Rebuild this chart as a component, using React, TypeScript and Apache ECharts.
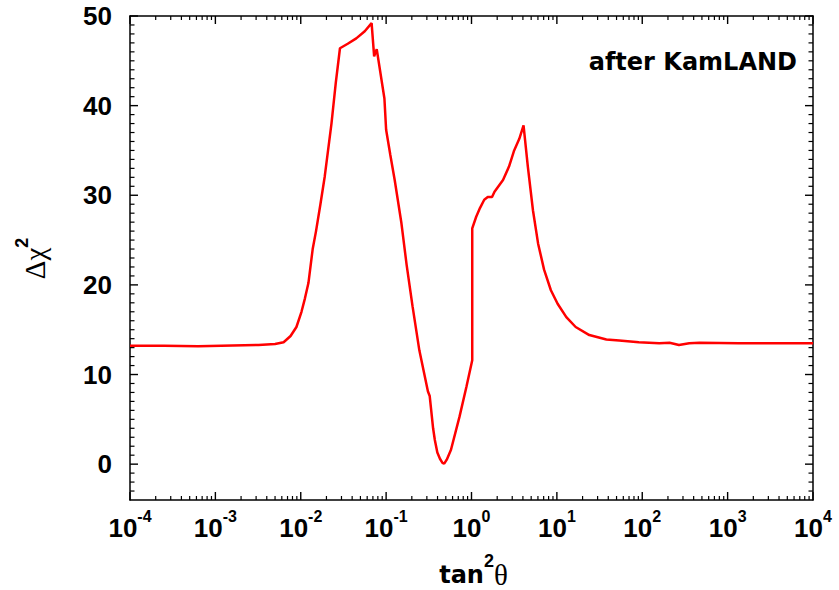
import React, { useEffect, useRef } from "react";
import * as echarts from "echarts";

// tan^2(theta) values along the curve
const tanSq = [
  1e-4, 2.5e-4, 6.3e-4, 1.6e-3, 3.2e-3, 5.0e-3, 6.3e-3, 7.6e-3, 8.9e-3, 1.02e-2,
  1.12e-2, 1.23e-2, 1.38e-2, 1.51e-2, 1.7e-2, 1.91e-2, 2.29e-2, 2.57e-2, 2.88e-2, 3.55e-2,
  4.47e-2, 5.62e-2, 6.76e-2, 7.24e-2, 7.76e-2, 9.55e-2, 0.1, 0.112, 0.126, 0.151,
  0.174, 0.204, 0.245, 0.309, 0.324, 0.355, 0.372, 0.398, 0.427, 0.457,
  0.479, 0.513, 0.575, 0.724, 0.871, 1.02, 1.02, 1.135, 1.26, 1.41,
  1.55, 1.74, 1.86, 2.34, 2.75, 3.16, 3.63, 4.07, 4.57, 5.25,
  6.03, 7.08, 8.51, 10.2, 12.9, 16.6, 24.0, 38.0, 53.7, 91.2,
  158, 209, 269, 355, 468, 1350, 3980, 10000,
];

// Delta chi^2 values
const deltaChi2 = [
  13.2, 13.2, 13.15, 13.25, 13.3, 13.4, 13.6, 14.3, 15.3, 17.0,
  18.5, 20.2, 24.0, 26.0, 29.0, 32.1, 38.0, 42.5, 46.4, 46.9,
  47.5, 48.3, 49.2, 45.5, 46.3, 40.8, 37.3, 34.5, 31.7, 26.9,
  22.2, 17.6, 12.7, 8.1, 7.6, 4.0, 2.7, 1.3, 0.6, 0.15,
  0.05, 0.5, 1.6, 5.3, 8.6, 11.6, 26.3, 27.6, 28.6, 29.5,
  29.8, 29.8, 30.4, 31.7, 33.2, 35.0, 36.3, 37.8, 33.2, 28.3,
  24.6, 21.7, 19.4, 17.9, 16.4, 15.3, 14.4, 13.9, 13.8, 13.6,
  13.5, 13.55, 13.3, 13.5, 13.55, 13.5, 13.5, 13.5,
];

const xDecadeExponents = [-4, -3, -2, -1, 0, 1, 2, 3, 4];
const yTickValues = [0, 10, 20, 30, 40, 50];
const annotationText = "after KamLAND";
const xTitleParts = ["tan", "2", "θ"];
const yTitleParts = ["Δχ", "2"];

const X_MIN = 1e-4;
const X_MAX = 1e4;
const Y_MIN = -4;
const Y_MAX = 50;

export default function App() {
  const ref = useRef<HTMLDivElement>(null);

  useEffect(() => {
    const chart = echarts.init(ref.current!, null, { renderer: "svg" });

    // tick specs: [value, length]
    const xTicks: number[][] = [];
    xDecadeExponents.forEach((e) => {
      xTicks.push([Math.pow(10, e), 8]);
      if (e < 4) for (let k = 2; k <= 9; k++) xTicks.push([k * Math.pow(10, e), 4]);
    });
    const yTicks: number[][] = [];
    for (let v = -3; v <= 50; v++) yTicks.push([1, v, v % 10 === 0 ? 8 : 4.5]);

    const axisLineStyle = { color: "#000", width: 1.5 };

    const option: any = {
      animation: false,
      backgroundColor: "#fff",
      grid: { left: 130, top: 16, right: 26, bottom: 90, containLabel: false },
      xAxis: [
        {
          type: "log",
          position: "bottom",
          min: X_MIN,
          max: X_MAX,
          logBase: 10,
          axisLine: { show: true, onZero: false, lineStyle: axisLineStyle },
          splitLine: { show: false },
          axisTick: { show: false },
          axisLabel: {
            show: true,
            margin: 13,
            formatter: (v: number) => `{b|10}{s|${Math.round(Math.log10(v))}}`,
            rich: {
              b: {
                fontFamily: "Liberation Sans",
                fontWeight: "bold",
                fontSize: 26,
                lineHeight: 30,
                color: "#000",
                verticalAlign: "middle",
              },
              s: {
                fontFamily: "Liberation Sans",
                fontWeight: "bold",
                fontSize: 16,
                lineHeight: 16,
                color: "#000",
                verticalAlign: "middle",
                padding: [0, 0, 24, 0],
              },
            },
          },
        },
        {
          type: "log",
          position: "top",
          min: X_MIN,
          max: X_MAX,
          logBase: 10,
          axisLine: { show: true, onZero: false, lineStyle: axisLineStyle },
          splitLine: { show: false },
          axisTick: { show: false },
          axisLabel: { show: false },
        },
      ],
      yAxis: [
        {
          type: "value",
          position: "left",
          min: Y_MIN,
          max: Y_MAX,
          axisLine: { show: true, onZero: false, lineStyle: axisLineStyle },
          splitLine: { show: false },
          axisTick: { show: false },
          axisLabel: {
            show: true,
            margin: 18,
            customValues: yTickValues,
            fontFamily: "Liberation Sans",
            fontWeight: "bold",
            fontSize: 26,
            color: "#000",
          },
        },
        {
          type: "value",
          position: "right",
          min: Y_MIN,
          max: Y_MAX,
          axisLine: { show: true, onZero: false, lineStyle: axisLineStyle },
          splitLine: { show: false },
          axisTick: { show: false },
          axisLabel: { show: false },
        },
      ],
      series: [
        {
          type: "custom",
          coordinateSystem: "cartesian2d",
          xAxisIndex: 0,
          yAxisIndex: 0,
          clip: false,
          data: xTicks,
          renderItem: (_p: any, api: any) => {
            const xv = api.value(0);
            const len = api.value(1);
            const b = api.coord([xv, Y_MIN]);
            const t = api.coord([xv, Y_MAX]);
            const w = len > 5 ? 1.4 : 1.2;
            return {
              type: "group",
              children: [
                { type: "line", shape: { x1: b[0], y1: b[1], x2: b[0], y2: b[1] - len }, style: { stroke: "#000", lineWidth: w } },
                { type: "line", shape: { x1: t[0], y1: t[1], x2: t[0], y2: t[1] + len }, style: { stroke: "#000", lineWidth: w } },
              ],
            };
          },
        },
        {
          type: "custom",
          coordinateSystem: "cartesian2d",
          xAxisIndex: 0,
          yAxisIndex: 0,
          clip: false,
          data: yTicks,
          encode: { x: 0, y: 1 },
          renderItem: (_p: any, api: any) => {
            const yv = api.value(1);
            const len = api.value(2);
            const l = api.coord([X_MIN, yv]);
            const r = api.coord([X_MAX, yv]);
            const w = len > 5 ? 1.4 : 1.2;
            return {
              type: "group",
              children: [
                { type: "line", shape: { x1: l[0], y1: l[1], x2: l[0] + len, y2: l[1] }, style: { stroke: "#000", lineWidth: w } },
                { type: "line", shape: { x1: r[0], y1: r[1], x2: r[0] - len, y2: r[1] }, style: { stroke: "#000", lineWidth: w } },
              ],
            };
          },
        },
        {
          type: "line",
          xAxisIndex: 0,
          yAxisIndex: 0,
          data: tanSq.map((t, i) => [t, deltaChi2[i]]),
          showSymbol: false,
          symbol: "none",
          smooth: false,
          lineStyle: { color: "#ff0000", width: 2.5 },
          itemStyle: { color: "#ff0000" },
          z: 5,
        },
      ],
      graphic: [
        {
          type: "text",
          x: 797,
          y: 62,
          style: {
            text: annotationText,
            fontFamily: "DejaVu Sans",
            fontWeight: "bold",
            fontSize: 24,
            fill: "#000",
            align: "right",
            verticalAlign: "middle",
          },
        },
        {
          type: "text",
          x: 473.5,
          y: 574.7,
          style: {
            text: `{t|${xTitleParts[0]}}{s|${xTitleParts[1]}}{g|${xTitleParts[2]}}`,
            align: "center",
            verticalAlign: "middle",
            rich: {
              t: {
                fontFamily: "DejaVu Sans",
                fontWeight: "bold",
                fontSize: 24,
                lineHeight: 28,
                fill: "#000",
                verticalAlign: "middle",
              },
              s: {
                fontFamily: "Liberation Sans",
                fontWeight: "bold",
                fontSize: 18,
                lineHeight: 18,
                fill: "#000",
                verticalAlign: "middle",
                padding: [0, 0, 27, 0],
              },
              g: {
                fontFamily: "Liberation Serif",
                fontSize: 29,
                lineHeight: 30,
                fill: "#000",
                verticalAlign: "middle",
              },
            },
          },
        },
        {
          type: "text",
          x: 35,
          y: 258.5,
          rotation: Math.PI / 2,
          style: {
            text: `{g|${yTitleParts[0]}}{s|${yTitleParts[1]}}`,
            align: "center",
            verticalAlign: "middle",
            rich: {
              g: {
                fontFamily: "Liberation Serif",
                fontSize: 29,
                lineHeight: 30,
                fill: "#000",
                verticalAlign: "middle",
              },
              s: {
                fontFamily: "Liberation Sans",
                fontWeight: "bold",
                fontSize: 18,
                lineHeight: 18,
                fill: "#000",
                verticalAlign: "middle",
                padding: [0, 0, 27, 0],
              },
            },
          },
        },
      ],
    };

    chart.setOption(option);
    return () => chart.dispose();
  }, []);

  return (
    <div
      ref={ref}
      style={{ position: "fixed", left: 0, top: 0, width: 839, height: 590, background: "#fff" }}
    />
  );
}
